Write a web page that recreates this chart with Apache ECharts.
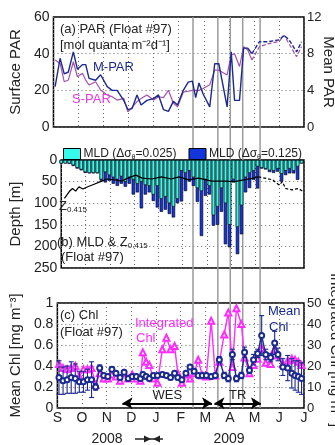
<!DOCTYPE html>
<html>
<head>
<meta charset="utf-8">
<script src="https://cdn.jsdelivr.net/npm/echarts@6/dist/echarts.min.js"></script>
<style>
  html, body { margin: 0; padding: 0; background: #fff; }
  #chart { width: 335px; height: 445px; }
</style>
</head>
<body>
<div id="chart"></div>
<script>
const FONT = 'Liberation Sans, Arial, sans-serif';
const NAVY = '#1b2a8f';
const SPAR = '#a452ac';
const MAGENTA = '#ff2cff';
const CYAN = '#36fbec';
const BLUE = '#1335dc';

// x axis: days since 1 Sep 2008, month ticks
const months = ['S', 'O', 'N', 'D', 'J', 'F', 'M', 'A', 'M', 'J', 'J'];
const dayMax = 303;
const eventDays = [169, 199, 214, 229, 250];

// (a) PAR
const parDays = [2, 8, 13, 18, 24, 29, 35, 39, 43, 51, 57, 65, 71, 77, 85, 90, 95, 101, 106, 113,
  121, 127, 133, 139, 145, 150, 157, 163, 168, 172, 176, 181, 189, 195, 200, 210, 215, 219, 225, 230,
  235, 240, 249, 259, 273, 279, 285, 294, 300];
const sPar = [36.5, 34.7, 24.7, 25.6, 35.6, 27.4, 29.3, 25.6, 22.9, 24.7, 20.2, 17.5, 16.5, 14.7, 15.6, 8.3, 10.7, 13.8, 15.6, 17.5,
  14.7, 16.5, 16, 20, 13, 11, 19, 19.5, 20, 20, 20, 21, 23, 31, 31, 28.4, 39.3, 40, 33, 43.8,
  42, 36.5, 43.8, 45.3, 46.7, 50, 45.3, 38.4, 43.8];
const mPar = [4.4, 7.5, 5.8, 6.0, 8.2, 6.3, 6.8, 6.8, 5.3, 5.1, 5.7, 4.4, 4.0, 4.0, 2.9, 1.9, 2.0, 3.5, 2.4, 2.9,
  3.1, 3.5, 1.9, 1.7, 2.8, 2.4, 4.0, 4.9, 5.0, 3.2, 4.8, 3.6, 2.2, 6.9, 6.9, 2.2, 8.2, 2.9, 2.9, 8.6,
  8.6, 8.0, 9.3, 9.3, 9.5, 10.0, 9.5, 8.2, 9.3];
const parDashFrom = 41;

// (b) MLD & Z0.415
const mldDays = [0, 5, 10, 15, 20, 25, 30, 35, 40, 45, 50, 55, 60, 65, 70, 75, 80, 85, 90, 95,
  100, 105, 110, 115, 120, 125, 130, 135, 140, 145, 150, 155, 160, 165, 170, 175, 180, 185, 190, 195,
  200, 205, 210, 215, 220, 225, 230, 235, 240, 245, 250, 255, 260, 265, 270, 275, 280, 285, 290, 295, 300];
const mld025 = [8, 8, 8, 12, 18, 22, 28, 30, 30, 30, 45, 28, 35, 40, 45, 38, 50, 40, 45, 55,
  50, 58, 60, 80, 60, 90, 85, 100, 108, 90, 25, 30, 25, 40, 65, 72, 45, 60, 128, 108,
  65, 100, 150, 45, 155, 105, 40, 30, 25, 15, 18, 20, 24, 25, 20, 32, 25, 20, 25, 15, 8];
const mld125 = [8, 8, 9, 14, 20, 24, 30, 31, 31, 31, 48, 52, 48, 55, 60, 55, 62, 55, 80, 75,
  112, 80, 75, 95, 110, 120, 115, 125, 133, 100, 96, 72, 50, 60, 97, 176, 83, 80, 152, 150,
  120, 195, 202, 52, 218, 172, 75, 65, 46, 66, 20, 22, 28, 30, 27, 50, 35, 31, 31, 46, 8];
const zDays = [4, 10, 14, 18, 22, 27, 33, 41, 49, 57, 67, 75, 83, 93, 101, 113, 125, 137, 147, 159,
  171, 188, 204, 216, 228, 240, 246, 254, 264, 272, 276, 280, 288, 296, 302];
const zDepth = [89, 73, 66, 72, 62, 67, 62, 56, 50, 44, 46, 49, 42, 35, 42, 44, 39, 44, 39, 46,
  42, 49, 49, 50, 46, 42, 39, 42, 46, 58, 50, 66, 69, 66, 73];
const zDashFrom = 26;

// (c) Chl
const chlDays = [2, 7, 12, 17, 22, 27, 32, 37, 42, 47, 52, 57, 62, 67, 72, 77, 82, 87, 92, 97,
  102, 105, 109, 113, 118, 123, 129, 134, 139, 144, 148, 153, 158, 163, 168, 173, 178, 183, 189, 194,
  199, 205, 210, 215, 220, 226, 230, 236, 241, 246, 251, 256, 262, 267, 271, 277, 283, 288, 292, 296, 300];
const meanChl = [0.29, 0.26, 0.27, 0.29, 0.28, 0.25, 0.25, 0.27, 0.27, 0.20, 0.38, 0.31, 0.30, 0.37, 0.33, 0.29, 0.34, 0.28, 0.30, 0.30,
  0.28, 0.32, 0.30, 0.28, 0.31, 0.31, 0.32, 0.31, 0.29, 0.33, 0.29, 0.27, 0.33, 0.39, 0.35, 0.31, 0.31, 0.31, 0.30, 0.31,
  0.46, 0.31, 0.28, 0.51, 0.28, 0.31, 0.53, 0.36, 0.46, 0.52, 0.69, 0.51, 0.48, 0.62, 0.51, 0.39, 0.38, 0.33, 0.31, 0.30, 0.28];
const chlErr = [0.16, 0.13, 0.13, 0.15, 0.14, 0.10, 0.10, 0.10, 0.17, 0.03, 0.03, 0.02, 0.02, 0.02, 0.02, 0.02, 0.02, 0.02, 0.02, 0.02,
  0.02, 0.02, 0.02, 0.02, 0.02, 0.02, 0.02, 0.02, 0.02, 0.02, 0.02, 0.02, 0.02, 0.02, 0.02, 0.02, 0.02, 0.02, 0.02, 0.02,
  0.03, 0.03, 0.03, 0.05, 0.03, 0.03, 0.05, 0.03, 0.05, 0.04, 0.19, 0.05, 0.04, 0.11, 0.06, 0.08, 0.12, 0.14, 0.14, 0.15, 0.15];
const intChl = [21, 19, 18.5, 19, 20, 15, 18.5, 18.5, 19, 11, 16.5, 14, 14, 16, 15, 13, 16.5, 14, 16, 14,
  13, 26.5, 22, 20.5, 14, 12, 28, 33.5, 28, 29.5, 16.5, 12, 16, 14, 16.5, 23, 15.5, 15, 41.5, 15.5,
  22, 35, 45.5, 19.5, 47.5, 40, 24, 16.5, 20.5, 23.5, 28.5, 21.5, 21, 28, 25, 21, 22.5, 23.5, 23, 22, 20.5];
const wesRange = [80, 190];
const trRange = [193, 250];

const pairs = (xs, ys) => xs.map((x, i) => [x, ys[i]]);

const dotted = { show: true, lineStyle: { color: '#666', type: [1, 3], width: 1 } };
function monthAxis(gridIndex, showLabels) {
  return {
    type: 'value', gridIndex, min: 0, max: dayMax, interval: dayMax / 10,
    axisLine: { show: false }, axisTick: { show: false },
    splitLine: dotted,
    axisLabel: {
      show: showLabels, fontSize: 14, fontFamily: FONT, color: '#222', margin: 3,
      formatter: v => months[Math.round(v / (dayMax / 10))]
    }
  };
}
function valAxis(gridIndex, opts) {
  return Object.assign({
    type: 'value', gridIndex,
    axisLine: { show: false }, axisTick: { show: false },
    splitLine: { show: false },
    nameLocation: 'middle',
    nameTextStyle: { fontSize: 15, fontFamily: FONT, color: '#222' },
    axisLabel: { fontSize: 14, fontFamily: FONT, color: '#222', margin: 4 }
  }, opts);
}
const rightLabels = { fontSize: 13, fontFamily: FONT, color: '#222', margin: 3 };

const chart = echarts.init(document.getElementById('chart'), null, { renderer: 'canvas' });

const grids = [
  { left: 53, right: 31, top: 17, height: 110 },
  { left: 53, right: 31, top: 160, height: 108 },
  { left: 53, right: 31, top: 303, height: 105 },
  { left: 53, right: 31, top: 17, bottom: 37 }
];
grids.slice(0, 3).forEach(g => Object.assign(g, { show: true, borderColor: '#000', borderWidth: 1.5, backgroundColor: 'transparent' }));

const lbl = (text, x, y, extra) => ({
  type: 'text', z: 20,
  style: Object.assign({ text, x, y, fill: '#222', font: '13px ' + FONT, verticalAlign: 'middle' }, extra || {})
});
// right-hand axis titles, rotated to read top to bottom
const sideTitle = (text, x, y) => ({
  type: 'text', z: 20, x, y, rotation: -Math.PI / 2,
  style: { text, fill: '#222', font: '15px ' + FONT, align: 'center', verticalAlign: 'middle' }
});
const subRich = { s: { fontSize: 8, fontFamily: FONT, fill: '#222', padding: [8, 0, 0, 0] } };

const option = {
  animation: false,
  backgroundColor: '#fff',
  grid: grids,
  legend: {
    top: 143, left: 58, itemWidth: 17, itemHeight: 11, itemGap: 12,
    icon: 'rect',
    itemStyle: { borderColor: '#000', borderWidth: 1 },
    data: ['MLD (Δσθ=0.025)', 'MLD (Δσθ=0.125)'],
    formatter: n => n.replace('σθ', 'σ{s|θ}'),
    textStyle: { fontSize: 12, fontFamily: FONT, color: '#222', padding: [0, 0, 0, -2],
      rich: { s: { fontSize: 7, fontFamily: FONT, color: '#222', padding: [6, 0, 0, 0] } } }
  },
  xAxis: [monthAxis(0, false), monthAxis(1, false), monthAxis(2, true),
    { type: 'value', gridIndex: 3, min: 0, max: dayMax, show: false }],
  yAxis: [
    valAxis(0, { min: 0, max: 60, interval: 20, name: 'Surface PAR', nameGap: 29,
      splitLine: { show: true, lineStyle: { color: '#666', type: [1, 3] } } }),
    valAxis(0, { min: 0, max: 12, interval: 4, position: 'right', axisLabel: rightLabels }),
    valAxis(1, { min: 0, max: 250, interval: 50, inverse: true, name: 'Depth [m]', nameGap: 38,
      splitLine: { show: true, lineStyle: { color: '#666', type: [1, 3] } } }),
    valAxis(2, { min: 0, max: 1, interval: 0.2, name: 'Mean Chl [mg m⁻³]', nameGap: 34,
      splitLine: { show: true, lineStyle: { color: '#666', type: [1, 3] } } }),
    valAxis(2, { min: 0, max: 50, interval: 10, position: 'right', axisLabel: rightLabels }),
    { type: 'value', gridIndex: 3, min: 0, max: 1, show: false }
  ],
  series: [
    // event lines spanning all panels
    {
      type: 'custom', xAxisIndex: 3, yAxisIndex: 5, z: 1, silent: true,
      data: eventDays.map(d => [d]),
      renderItem: (params, api) => {
        const a = api.coord([api.value(0), 0]);
        const b = api.coord([api.value(0), 1]);
        return { type: 'line', shape: { x1: a[0], y1: a[1], x2: b[0], y2: b[1] },
          style: { stroke: '#9b9b9b', lineWidth: 1.5 } };
      }
    },
    // (a)
    { type: 'line', xAxisIndex: 0, yAxisIndex: 0, z: 4, symbol: 'none',
      data: pairs(parDays, sPar).slice(0, parDashFrom + 1), lineStyle: { color: SPAR, width: 1.2 } },
    { type: 'line', xAxisIndex: 0, yAxisIndex: 0, z: 4, symbol: 'none',
      data: pairs(parDays, sPar).slice(parDashFrom), lineStyle: { color: SPAR, width: 1.2, type: [4, 2] } },
    { type: 'line', xAxisIndex: 0, yAxisIndex: 1, z: 5, symbol: 'none',
      data: pairs(parDays, mPar).slice(0, parDashFrom + 1), lineStyle: { color: NAVY, width: 1.4 } },
    { type: 'line', xAxisIndex: 0, yAxisIndex: 1, z: 5, symbol: 'none',
      data: pairs(parDays, mPar).slice(parDashFrom), lineStyle: { color: NAVY, width: 1.4, type: [4, 2] } },
    // (b)
    { name: 'MLD (Δσθ=0.125)', type: 'bar', xAxisIndex: 1, yAxisIndex: 2, z: 3, barWidth: 3.4, barGap: '-100%',
      data: pairs(mldDays, mld125), itemStyle: { color: BLUE, borderColor: '#000', borderWidth: 0.6 } },
    { name: 'MLD (Δσθ=0.025)', type: 'bar', xAxisIndex: 1, yAxisIndex: 2, z: 3, barWidth: 3.4, barGap: '-100%',
      data: pairs(mldDays, mld025), itemStyle: { color: CYAN, borderColor: '#000', borderWidth: 0.6 } },
    { type: 'line', xAxisIndex: 1, yAxisIndex: 2, z: 6, symbol: 'none',
      data: pairs(zDays, zDepth).slice(0, zDashFrom + 1), lineStyle: { color: '#000', width: 1.2 } },
    { type: 'line', xAxisIndex: 1, yAxisIndex: 2, z: 6, symbol: 'none',
      data: pairs(zDays, zDepth).slice(zDashFrom), lineStyle: { color: '#000', width: 1.2, type: [3, 2] } },
    // (c)
    { type: 'line', xAxisIndex: 2, yAxisIndex: 4, z: 4, symbol: 'emptyTriangle', symbolSize: 6,
      data: pairs(chlDays, intChl), itemStyle: { color: MAGENTA, borderWidth: 1.1 },
      lineStyle: { color: MAGENTA, width: 1.4 } },
    {
      type: 'custom', xAxisIndex: 2, yAxisIndex: 3, z: 5, silent: true,
      data: chlDays.map((d, i) => [d, meanChl[i] - chlErr[i], meanChl[i] + chlErr[i]]),
      renderItem: (params, api) => {
        const lo = api.coord([api.value(0), api.value(1)]);
        const hi = api.coord([api.value(0), api.value(2)]);
        const st = { stroke: NAVY, lineWidth: 1.1 };
        return { type: 'group', children: [
          { type: 'line', shape: { x1: lo[0], y1: lo[1], x2: hi[0], y2: hi[1] }, style: st },
          { type: 'line', shape: { x1: lo[0] - 2.5, y1: lo[1], x2: lo[0] + 2.5, y2: lo[1] }, style: st },
          { type: 'line', shape: { x1: hi[0] - 2.5, y1: hi[1], x2: hi[0] + 2.5, y2: hi[1] }, style: st }
        ] };
      }
    },
    { type: 'line', xAxisIndex: 2, yAxisIndex: 3, z: 6, symbol: 'emptyCircle', symbolSize: 5,
      data: pairs(chlDays, meanChl), itemStyle: { color: NAVY, borderWidth: 1.1 },
      lineStyle: { color: NAVY, width: 1.4 },
      markLine: {
        silent: true, symbol: ['arrow', 'arrow'], symbolSize: [9, 10],
        lineStyle: { color: '#000', width: 2.2, type: 'solid' },
        data: [
          [{ coord: [wesRange[0], 0.045], name: 'WES' }, { coord: [wesRange[1], 0.045] }],
          [{ coord: [trRange[0], 0.045], name: 'TR' }, { coord: [trRange[1], 0.045] }]
        ],
        label: { show: true, position: 'insideMiddleTop', distance: 1, formatter: p => p.name,
          fontSize: 13, fontFamily: FONT, color: '#222' }
      }
    }
  ],
  graphic: [
    sideTitle('Mean PAR', 328, 72),
    sideTitle('Integrated Chl [mg m⁻²]', 335, 350),
    lbl('(a) PAR (Float #97)', 60, 29),
    lbl('[mol quanta m⁻²d⁻¹]', 60, 45),
    lbl('M-PAR', 93, 67, { fill: NAVY }),
    lbl('S-PAR', 72, 99, { fill: '#e03ce0' }),
    lbl('Z{s|0.415}', 59, 206, { rich: subRich }),
    lbl('(b) MLD & Z{s|0.415}', 57, 242, { rich: subRich }),
    lbl('(Float #97)', 61, 257),
    lbl('(c) Chl', 60, 315),
    lbl('(Float #97)', 60, 332),
    lbl('Integrated', 135, 323, { fill: MAGENTA }),
    lbl('Chl', 136, 338, { fill: MAGENTA }),
    lbl('Mean', 268, 311, { fill: NAVY }),
    lbl('Chl', 269, 327, { fill: NAVY }),
    lbl('2008', 107, 439, { align: 'center', font: '14px ' + FONT }),
    lbl('2009', 229, 439, { align: 'center', font: '14px ' + FONT }),
    { type: 'line', shape: { x1: 135, y1: 439, x2: 163, y2: 439 }, style: { stroke: '#222', lineWidth: 1.5 } },
    { type: 'polygon', shape: { points: [[151, 439], [144, 435.5], [144, 442.5]] }, style: { fill: '#222' } },
    { type: 'polygon', shape: { points: [[153, 439], [160, 435.5], [160, 442.5]] }, style: { fill: '#222' } }
  ]
};

chart.setOption(option);
</script>
</body>
</html>
